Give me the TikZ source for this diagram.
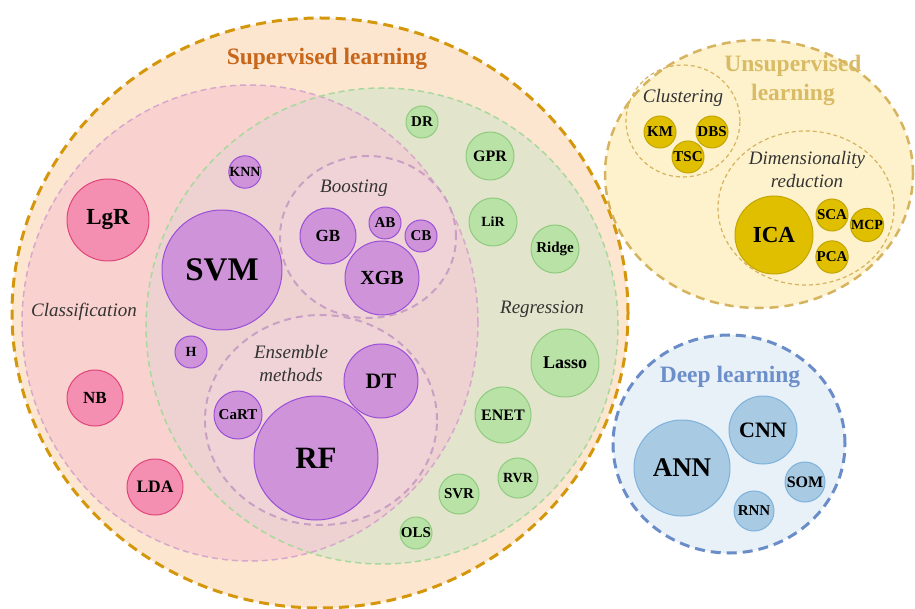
\documentclass[tikz,border=0pt]{standalone}
\usepackage{fontspec}
\setmainfont{Liberation Serif}
\definecolor{supfill}{HTML}{FDE6CF}
\definecolor{supline}{HTML}{D4960A}
\definecolor{suptext}{HTML}{C8661A}
\definecolor{clsfill}{HTML}{F9D2CF}
\definecolor{clsline}{HTML}{D6A8CC}
\definecolor{regfill}{HTML}{E3E4CC}
\definecolor{regline}{HTML}{A8D89C}
\definecolor{ovlfill}{HTML}{EDD2D1}
\definecolor{boofill}{HTML}{EFD3D6}
\definecolor{booline}{HTML}{C9A0C4}
\definecolor{purpfill}{HTML}{CE93D8}
\definecolor{purpline}{HTML}{9A4FD8}
\definecolor{pinkfill}{HTML}{F48FB1}
\definecolor{pinkline}{HTML}{E0457A}
\definecolor{grnfill}{HTML}{B9E2A6}
\definecolor{grnline}{HTML}{8FCB7F}
\definecolor{gldfill}{HTML}{DFBF00}
\definecolor{gldline}{HTML}{C4A500}
\definecolor{unsfill}{HTML}{FEF2CC}
\definecolor{unsline}{HTML}{D6B35E}
\definecolor{unstext}{HTML}{D9BB66}
\definecolor{dlfill}{HTML}{E8F0F8}
\definecolor{dlline}{HTML}{6A8CC8}
\definecolor{dltext}{HTML}{6D8FC9}
\definecolor{blufill}{HTML}{A8CAE2}
\definecolor{bluline}{HTML}{7DB2DD}
\definecolor{labgray}{HTML}{333333}
\begin{document}
\begin{tikzpicture}[x=1pt,y=-1pt,
  bub/.style={circle, draw, line width=1pt, inner sep=0pt},
  rad/.style={minimum size={2*#1pt}},
  fs/.style={font=\bfseries\fontsize{#1}{#1}\selectfont},
  purpb/.style={bub, fill=purpfill, draw=purpline},
  pinkb/.style={bub, fill=pinkfill, draw=pinkline},
  grnb/.style={bub, fill=grnfill, draw=grnline},
  gldb/.style={bub, fill=gldfill, draw=gldline},
  blub/.style={bub, fill=blufill, draw=bluline},
  itl/.style={font=\itshape\fontsize{19}{23}\selectfont, text=labgray, align=center, inner sep=0pt},
  ttl/.style={font=\bfseries\fontsize{23.5}{27}\selectfont, align=center, inner sep=0pt},
  bigdash/.style={line width=3pt, dash pattern=on 10pt off 6pt},
  middash/.style={line width=2pt, dash pattern=on 7pt off 5pt},
  thindash/.style={line width=1.5pt, dash pattern=on 6pt off 4pt},
  finedash/.style={line width=1.2pt, dash pattern=on 4pt off 3pt}
]
\useasboundingbox (0,0) rectangle (915,609);
% Supervised
\fill[supfill] (320,313) ellipse [x radius=308pt, y radius=295pt];
\fill[clsfill] (250,323) ellipse [x radius=228pt, y radius=238pt];
\fill[regfill] (382,326) ellipse [x radius=236pt, y radius=238pt];
\begin{scope}
  \clip (250,323) ellipse [x radius=228pt, y radius=238pt];
  \fill[ovlfill] (382,326) ellipse [x radius=236pt, y radius=238pt];
\end{scope}
\draw[clsline, thindash] (250,323) ellipse [x radius=228pt, y radius=238pt];
\draw[regline, thindash] (382,326) ellipse [x radius=236pt, y radius=238pt];
\draw[supline, bigdash] (320,313) ellipse [x radius=308pt, y radius=295pt];
\filldraw[fill=boofill, draw=booline, middash] (368,237) ellipse [x radius=88pt, y radius=81pt];
\filldraw[fill=boofill, draw=booline, middash] (321,420) ellipse [x radius=116pt, y radius=105pt];
% Unsupervised
\filldraw[fill=unsfill, draw=unsline, line width=2.5pt, dash pattern=on 9pt off 6pt] (759,174) ellipse [x radius=154pt, y radius=134pt];
\draw[unsline, finedash] (683,121) ellipse [x radius=57pt, y radius=56pt];
\draw[unsline, finedash] (806,208) ellipse [x radius=88pt, y radius=77pt];
% Deep learning
\filldraw[fill=dlfill, draw=dlline, bigdash] (729,444) ellipse [x radius=116pt, y radius=109pt];

% titles
\node[ttl, text=suptext] (tsup) at (327,59) {Supervised learning};
\node[ttl, text=unstext, font=\bfseries\fontsize{23.5}{29}\selectfont] (tuns) at (793,80) {Unsupervised\\learning};
\node[ttl, text=dltext] (tdl) at (730,377) {Deep learning};

% italic labels
\node[itl] (tcls) at (84,312) {Classification};
\node[itl] (treg) at (542,309) {Regression};
\node[itl] (tboo) at (354,188) {Boosting};
\node[itl] (tens) at (291,364) {Ensemble\\methods};
\node[itl] (tclu) at (683,98) {Clustering};
\node[itl] (tdim) at (807,170) {Dimensionality\\reduction};

% classification
\node[pinkb, rad=41, fs=23] (lgr) at (108,220) {LgR};
\node[pinkb, rad=28, fs=17] (nb) at (95,398) {NB};
\node[pinkb, rad=28, fs=17.5] (lda) at (155,487) {LDA};
% shared
\node[purpb, rad=60, fs=33] (svm) at (222,270) {SVM};
\node[purpb, rad=16, fs=14] (knn) at (245,172) {KNN};
\node[purpb, rad=28, fs=17] (gb) at (328,236) {GB};
\node[purpb, rad=16, fs=15] (ab) at (385,223) {AB};
\node[purpb, rad=16, fs=15] (cb) at (421,236) {CB};
\node[purpb, rad=37, fs=20] (xgb) at (382,278) {XGB};
\node[purpb, rad=16, fs=14] (h) at (191,352) {H};
\node[purpb, rad=24, fs=15] (cart) at (238,415) {CaRT};
\node[purpb, rad=62, fs=31] (rf) at (316,458) {RF};
\node[purpb, rad=37, fs=22] (dt) at (381,381) {DT};
% regression
\node[grnb, rad=16, fs=15] (dr) at (422,122) {DR};
\node[grnb, rad=24, fs=16] (gpr) at (490,156) {GPR};
\node[grnb, rad=24, fs=14] (lir) at (493,222) {LiR};
\node[grnb, rad=24, fs=15] (ridge) at (555,249) {Ridge};
\node[grnb, rad=34, fs=18] (lasso) at (565,363) {Lasso};
\node[grnb, rad=28, fs=16] (enet) at (503,415) {ENET};
\node[grnb, rad=20, fs=14] (rvr) at (518,478) {RVR};
\node[grnb, rad=20, fs=15] (svr) at (459,494) {SVR};
\node[grnb, rad=16, fs=15] (ols) at (416,533) {OLS};
% unsupervised
\node[gldb, rad=16, fs=15] (km) at (660,132) {KM};
\node[gldb, rad=16, fs=15] (dbs) at (712,132) {DBS};
\node[gldb, rad=16, fs=15] (tsc) at (688,157) {TSC};
\node[gldb, rad=39, fs=23] (ica) at (774,235) {ICA};
\node[gldb, rad=16, fs=15] (sca) at (832,215) {SCA};
\node[gldb, rad=16, fs=14] (mcp) at (867,225) {MCP};
\node[gldb, rad=16, fs=15] (pca) at (832,257) {PCA};
% deep learning
\node[blub, rad=48, fs=27] (ann) at (682,468) {ANN};
\node[blub, rad=34, fs=22] (cnn) at (763,430) {CNN};
\node[blub, rad=20, fs=16] (som) at (805,482) {SOM};
\node[blub, rad=20, fs=15] (rnn) at (754,511) {RNN};
\end{tikzpicture}
\end{document}
